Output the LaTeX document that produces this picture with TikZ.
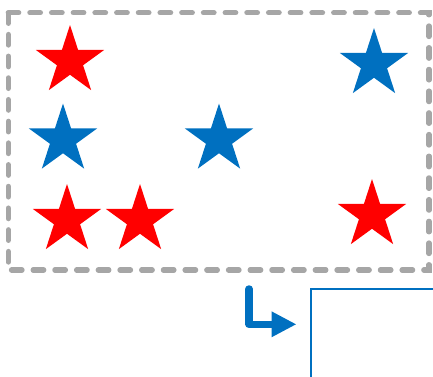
\documentclass[tikz,border=0pt]{standalone}
\usetikzlibrary{shapes.geometric,arrows.meta}
\definecolor{sred}{HTML}{FF0000}
\definecolor{sblue}{HTML}{0070C0}
\definecolor{sgray}{HTML}{A6A6A6}
\tikzset{
  starshape/.style={star, star points=5, star point ratio=2.618, minimum size=72pt, inner sep=0pt, outer sep=0pt, draw=none},
  redstar/.style={starshape, fill=sred},
  bluestar/.style={starshape, fill=sblue},
  frame/.style={draw=sgray, line width=5.3pt, line cap=round, dash pattern=on 10.5pt off 11.2pt},
  flow/.style={draw=sblue, line width=7.5pt, line cap=round, line join=round, -{Triangle[length=25pt,width=24pt]}},
  panel/.style={draw=sblue, line width=2pt}
}
\begin{document}
\begin{tikzpicture}[x=1pt,y=-1pt]
\useasboundingbox (0,0) rectangle (433,376);
\draw[frame] (8.3,12.8) rectangle (429,270);
\node[redstar] (s1) at (70,61) {};
\node[bluestar] (s2) at (374,64) {};
\node[bluestar] (s3) at (63,139.5) {};
\node[bluestar] (s4) at (219,139.5) {};
\node[redstar] (s5) at (67,220) {};
\node[redstar] (s6) at (140,220) {};
\node[redstar] (s7) at (372,215) {};
\coordinate (a0) at (249.2,289);
\coordinate (a1) at (296.5,324.3);
\draw[flow] (a0) |- (a1);
\coordinate (p0) at (434,289);
\coordinate (p1) at (311,289);
\coordinate (p2) at (311,377);
\draw[panel] (p0) -- (p1) -- (p2);
\end{tikzpicture}
\end{document}
